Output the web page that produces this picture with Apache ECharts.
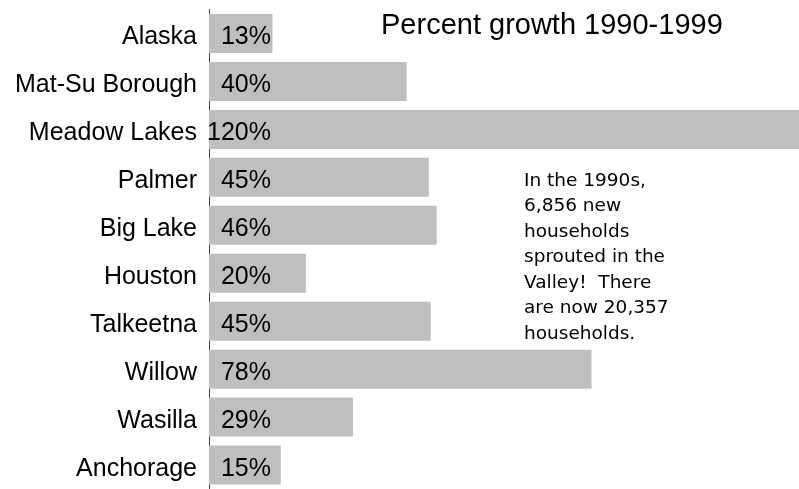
<!DOCTYPE html>
<html>
<head>
<meta charset="utf-8">
<script src="https://cdn.jsdelivr.net/npm/echarts@6/dist/echarts.min.js"></script>
<style>
html,body{margin:0;padding:0;background:#fff;}
#chart{width:799px;height:489px;}
</style>
</head>
<body>
<div id="chart"></div>
<script>
var categories = ['Alaska', 'Mat-Su Borough', 'Meadow Lakes', 'Palmer', 'Big Lake', 'Houston', 'Talkeetna', 'Willow', 'Wasilla', 'Anchorage'];
var growthPct = [12.9, 40.2, 120, 44.7, 46.3, 19.7, 45.1, 77.8, 29.3, 14.6];
var titleText = 'Percent growth 1990-1999';
var noteText = 'In the 1990s,\n6,856 new\nhouseholds\nsprouted in the\nValley!  There\nare now 20,357\nhouseholds.';

var chart = echarts.init(document.getElementById('chart'), null, {renderer: 'canvas'});
chart.setOption({
  animation: false,
  backgroundColor: '#ffffff',
  title: {
    text: titleText,
    left: 381,
    top: 11,
    padding: 0,
    textStyle: {fontFamily: 'Liberation Sans', fontSize: 29, fontWeight: 'normal', color: '#000'}
  },
  grid: {left: 209, top: 9.5, width: 594, height: 486, containLabel: false},
  xAxis: {
    type: 'value', min: 0, max: 120, show: false,
    splitLine: {show: false}
  },
  yAxis: {
    type: 'category',
    data: categories,
    inverse: true,
    axisLine: {show: true, lineStyle: {color: '#404040', width: 1}},
    axisTick: {show: false},
    axisLabel: {
      fontFamily: 'Liberation Sans', fontSize: 25, color: '#000', margin: 12,
      verticalAlign: 'top', lineHeight: 8
    }
  },
  series: [{
    type: 'bar',
    data: growthPct,
    barWidth: 39,
    itemStyle: {color: '#bfbfbf'},
    label: {
      show: true,
      position: [62, '50%'],
      align: 'right',
      verticalAlign: 'middle',
      offset: [0, 4],
      fontFamily: 'Liberation Sans', fontSize: 25, color: '#000',
      formatter: function (p) { return Math.round(p.value) + '%'; }
    }
  }],
  graphic: [{
    type: 'text',
    left: 524,
    top: 168,
    style: {
      text: noteText,
      font: '18.5px "DejaVu Sans"',
      fill: '#000',
      lineHeight: 25.5
    }
  }]
});
</script>
</body>
</html>
